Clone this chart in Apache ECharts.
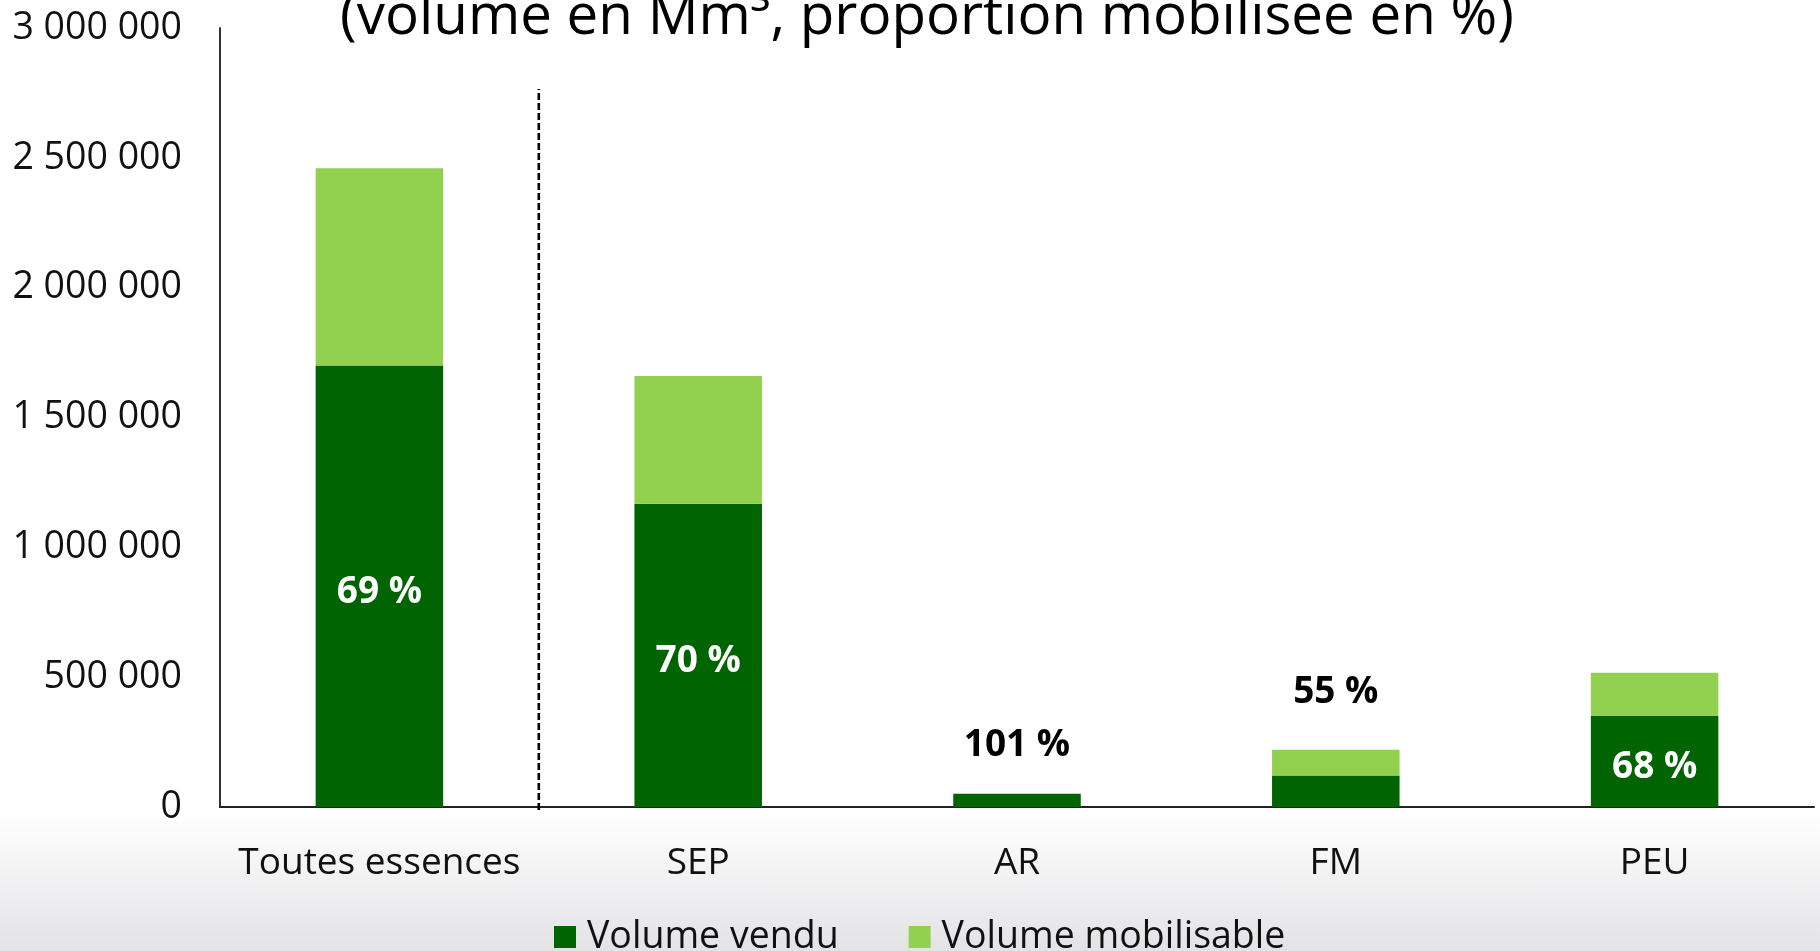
<!DOCTYPE html>
<html>
<head>
<meta charset="utf-8">
<script src="https://cdn.jsdelivr.net/npm/echarts@6/dist/echarts.min.js"></script>
<style>
  html, body { margin: 0; padding: 0; }
  #chart {
    width: 1820px; height: 951px;
    background: linear-gradient(to bottom, #ffffff 0px, #ffffff 812px, #e3e3e6 951px);
  }
</style>
</head>
<body>
<div id="chart"></div>
<script>
const categories = ['Toutes essences', 'SEP', 'AR', 'FM', 'PEU'];
const volumeVendu = [1700000, 1168000, 51000, 121000, 350000];
const volumeMobilisable = [760000, 492000, 0, 99000, 167000];
const proportionLabels = ['69 %', '70 %', '101 %', '55 %', '68 %'];
const yTicks = [0, 500000, 1000000, 1500000, 2000000, 2500000, 3000000];
const titleText = '(volume en Mm³, proportion mobilisée en %)';
const seriesNames = ['Volume vendu', 'Volume mobilisable'];
// separator between "Toutes essences" and the species (category boundary index, top/bottom values)
const separatorAt = 1;
const separatorRange = [2765000, -12000];

const FONT = '"Open Sans", "Noto Sans", sans-serif';
const DARK = '#006400';
const LIGHT = '#92D050';

function fmt(v) {
  return String(v).replace(/\B(?=(\d{3})+(?!\d))/g, ' ');
}

const labelStyle = [
  { position: 'inside', color: '#fff', offset: [0, 6] },
  { position: 'inside', color: '#fff', offset: [0, 6] },
  { position: 'top', color: '#000', distance: 30 },
  { position: 'top', color: '#000', distance: 65 },
  { position: 'inside', color: '#fff', offset: [0, 6] }
];

const vendData = volumeVendu.map((v, i) => ({
  value: v,
  label: Object.assign({ show: true, formatter: proportionLabels[i] }, labelStyle[i])
}));

const chart = echarts.init(document.getElementById('chart'), null, { renderer: 'canvas' });
chart.setOption({
  backgroundColor: 'transparent',
  animation: false,
  textStyle: { fontFamily: FONT },
  title: {
    text: titleText,
    left: 922, top: -16, textAlign: 'center',
    textStyle: { fontFamily: FONT, fontSize: 56.5, fontWeight: 'normal', color: '#000' }
  },
  legend: {
    left: 549, top: 913,
    itemWidth: 22, itemHeight: 22, itemGap: 70,
    icon: 'rect',
    data: seriesNames,
    textStyle: { fontFamily: FONT, fontSize: 37.5, color: '#111', padding: [0, 0, 0, 6] }
  },
  grid: { left: 220, right: 6, top: 28, bottom: 144, containLabel: false },
  xAxis: [{
    type: 'category',
    data: categories,
    axisLine: { lineStyle: { color: '#222', width: 2 } },
    axisTick: { show: false },
    axisLabel: { fontFamily: FONT, fontSize: 37, color: '#111', margin: 38, interval: 0 }
  }, {
    type: 'value', min: 0, max: categories.length, show: false
  }],
  yAxis: {
    type: 'value',
    min: yTicks[0], max: yTicks[yTicks.length - 1], interval: yTicks[1] - yTicks[0],
    axisLine: { show: true, lineStyle: { color: '#333', width: 2 } },
    axisTick: { show: false },
    splitLine: { show: false },
    axisLabel: { fontFamily: FONT, fontSize: 37.5, color: '#111', margin: 38, formatter: fmt }
  },
  series: [{
    name: seriesNames[0],
    type: 'bar', stack: 'v', barWidth: '40%',
    itemStyle: { color: DARK },
    label: { fontFamily: FONT, fontSize: 37, fontWeight: 'bold' },
    data: vendData
  }, {
    name: seriesNames[1],
    type: 'bar', stack: 'v', barWidth: '40%',
    itemStyle: { color: LIGHT },
    data: volumeMobilisable
  }, {
    type: 'line', xAxisIndex: 1, silent: true, clip: false,
    data: [[separatorAt, separatorRange[1]], [separatorAt, separatorRange[0]]],
    symbol: 'none',
    lineStyle: { color: '#000', type: [7, 3], width: 2.6 }
  }]
});
</script>
</body>
</html>
